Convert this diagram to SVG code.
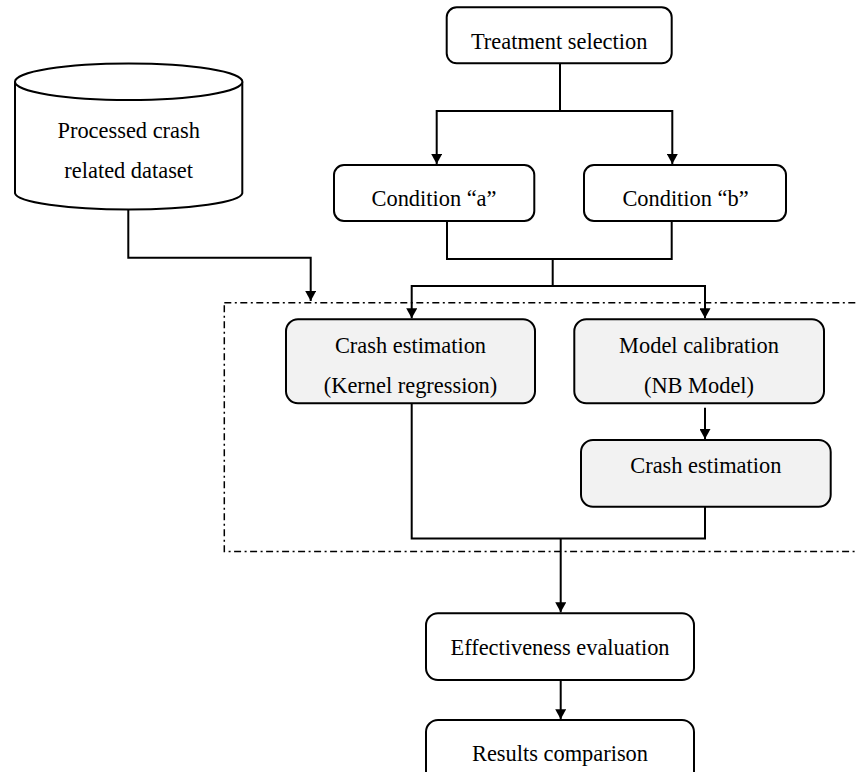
<svg xmlns="http://www.w3.org/2000/svg" width="857" height="772" viewBox="0 0 857 772">
  <style>
    .box { stroke: #000; stroke-width: 2; fill: #fff; }
    .shade { fill: #f2f2f2; }
    .wire { stroke: #000; stroke-width: 2; fill: none; }
    .frame { stroke: #000; stroke-width: 1.5; fill: none; stroke-dasharray: 7 3.5 2 3.5; }
    text { font-family: "Liberation Serif", "Times New Roman", serif; font-size: 22.4px; fill: #000; text-anchor: middle; }
  </style>
  <defs>
    <marker id="arrow" markerUnits="userSpaceOnUse" markerWidth="12" markerHeight="11" refX="10" refY="5.5" orient="auto">
      <path d="M0,0 L10,5.5 L0,11 Z" fill="#000"/>
    </marker>
  </defs>

  <rect width="857" height="772" fill="#fff"/>

  <!-- dash-dot frame around the estimation stage -->
  <rect class="frame" x="224.3" y="302.7" width="660" height="248.8"/>

  <g id="connectors">
    <!-- treatment selection splits into the two conditions -->
    <path class="wire" d="M560,63.3 V111 H436.7 V164" marker-end="url(#arrow)"/>
    <path class="wire" d="M560,111 H672.3 V164" marker-end="url(#arrow)"/>
    <!-- conditions join, then split to the two methods -->
    <path class="wire" d="M447,221 V259 H671.7 V221"/>
    <path class="wire" d="M552.7,259 V286 H411.7 V318.3" marker-end="url(#arrow)"/>
    <path class="wire" d="M552.7,286 H705 V318.3" marker-end="url(#arrow)"/>
    <!-- dataset feeds the estimation stage -->
    <path class="wire" d="M128.3,210 V257.7 H310.7 V301" marker-end="url(#arrow)"/>
    <!-- calibration to estimation -->
    <path class="wire" d="M705,407.7 V439" marker-end="url(#arrow)"/>
    <!-- results merge -->
    <path class="wire" d="M411.7,403.3 V538.5 H705 V506.7"/>
    <path class="wire" d="M560.7,538.5 V612.3" marker-end="url(#arrow)"/>
    <path class="wire" d="M560.7,680 V719.2" marker-end="url(#arrow)"/>
  </g>

  <g id="dataset">
    <path class="box" d="M15,81.7 L15,193.3 A113.7,16.7 0 0 0 242.3,193.3 L242.3,81.7"/>
    <ellipse class="box" cx="128.7" cy="81.7" rx="113.7" ry="18.3"/>
    <text x="128.7" y="138.3">Processed crash</text>
    <text x="128.7" y="178.3">related dataset</text>
  </g>

  <g id="treatment-selection">
    <rect class="box" x="446.7" y="7.3" width="225" height="56" rx="10"/>
    <text x="559.2" y="49">Treatment selection</text>
  </g>

  <g id="condition-a">
    <rect class="box" x="334" y="165" width="200.3" height="56" rx="10"/>
    <text x="434" y="205.5">Condition “a”</text>
  </g>

  <g id="condition-b">
    <rect class="box" x="584" y="165" width="202" height="56" rx="10"/>
    <text x="685.5" y="205.5">Condition “b”</text>
  </g>

  <g id="kernel-estimation">
    <rect class="box shade" x="286" y="319.3" width="249" height="84" rx="12"/>
    <text x="410.5" y="353">Crash estimation</text>
    <text x="410.5" y="393.3">(Kernel regression)</text>
  </g>

  <g id="model-calibration">
    <rect class="box shade" x="574.3" y="319.3" width="249.7" height="84" rx="12"/>
    <text x="699" y="353">Model calibration</text>
    <text x="699" y="393.3">(NB Model)</text>
  </g>

  <g id="nb-estimation">
    <rect class="box shade" x="581" y="440" width="249.7" height="66.7" rx="12"/>
    <text x="705.8" y="473">Crash estimation</text>
  </g>

  <g id="effectiveness-evaluation">
    <rect class="box" x="426" y="613.3" width="268" height="66.7" rx="12"/>
    <text x="560" y="655">Effectiveness evaluation</text>
  </g>

  <g id="results-comparison">
    <rect class="box" x="426" y="720" width="268" height="70" rx="12"/>
    <text x="560" y="760.7">Results comparison</text>
  </g>
</svg>
